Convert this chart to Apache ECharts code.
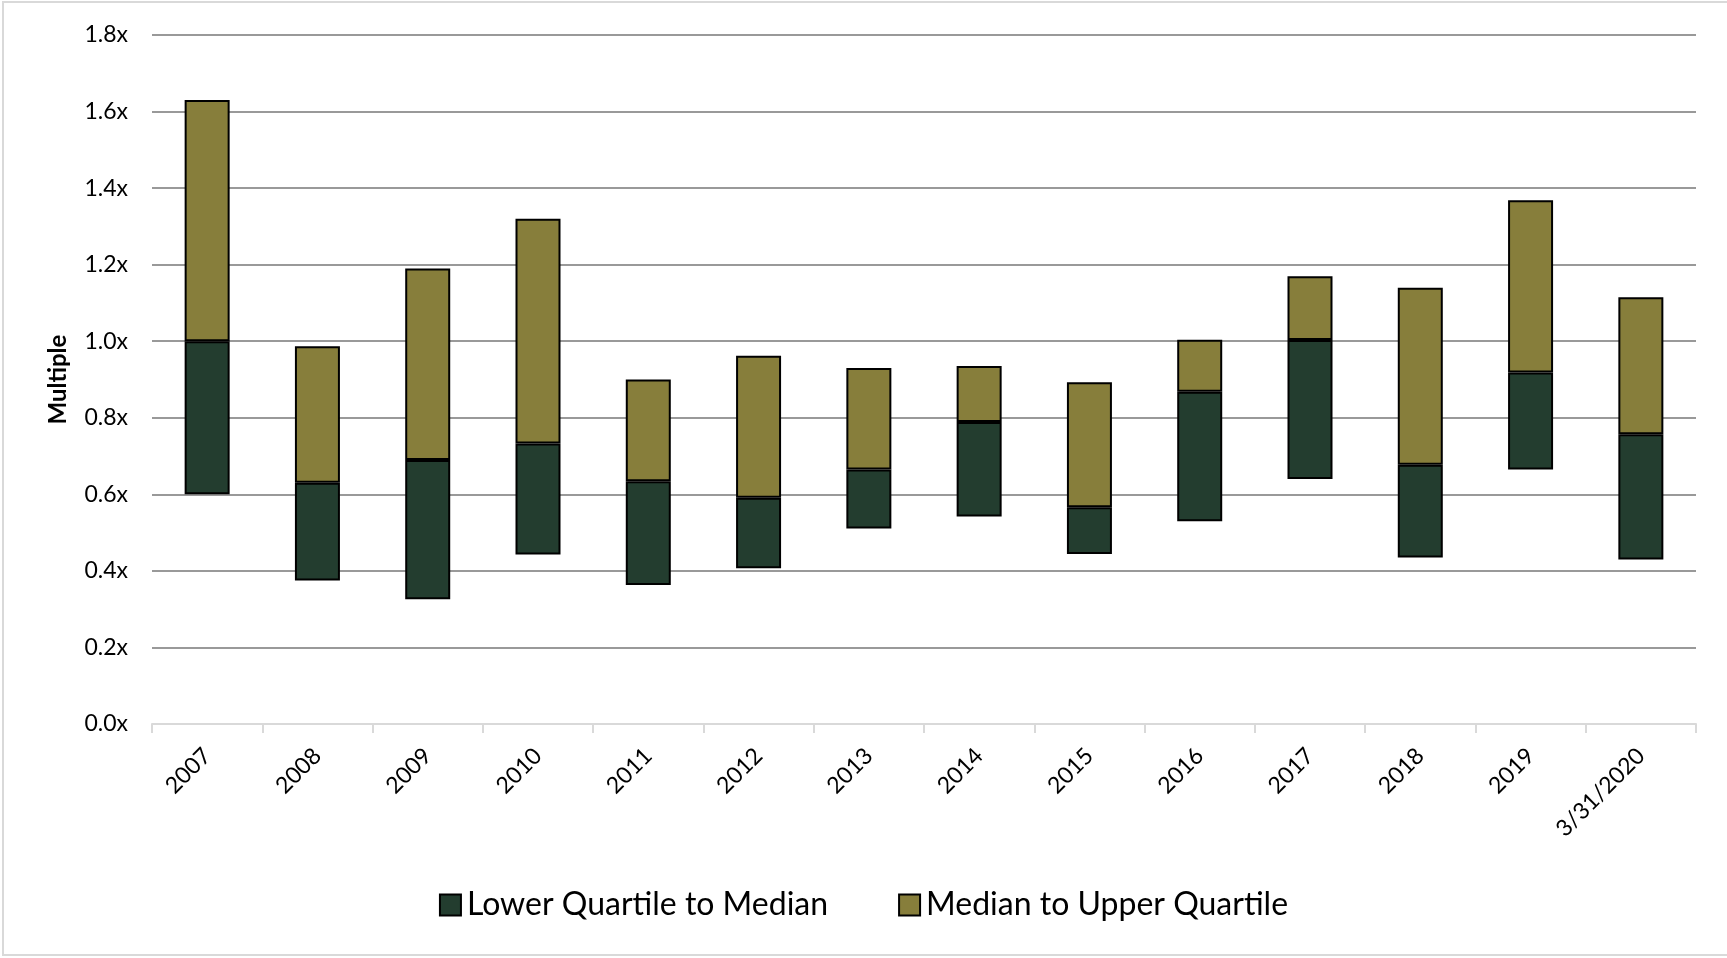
<!DOCTYPE html>
<html>
<head>
<meta charset="utf-8">
<title>Multiple by year</title>
<script src="https://cdn.jsdelivr.net/npm/echarts@6/dist/echarts.min.js"></script>
<style>
  html, body { margin: 0; padding: 0; background: #fff; }
  #main { width: 1727px; height: 958px; }
</style>
</head>
<body>
<div id="main"></div>
<script>
// categories + quartile values
var years = ['2007', '2008', '2009', '2010', '2011', '2012', '2013', '2014', '2015', '2016', '2017', '2018', '2019', '3/31/2020'];
var lowerQuartile = [0.60, 0.375, 0.326, 0.443, 0.363, 0.407, 0.511, 0.542, 0.444, 0.530, 0.640, 0.435, 0.665, 0.430];
var median = [1.00, 0.630, 0.690, 0.733, 0.634, 0.591, 0.665, 0.789, 0.566, 0.868, 1.003, 0.677, 0.918, 0.757];
var upperQuartile = [1.63, 0.987, 1.190, 1.320, 0.900, 0.962, 0.930, 0.935, 0.893, 1.004, 1.170, 1.140, 1.368, 1.115];
var yTicks = [0, 0.2, 0.4, 0.6, 0.8, 1.0, 1.2, 1.4, 1.6, 1.8];

var lowerToMedian = median.map(function (m, i) { return +(m - lowerQuartile[i]).toFixed(3); });
var medianToUpper = upperQuartile.map(function (u, i) { return +(u - median[i]).toFixed(3); });

var chart = echarts.init(document.getElementById('main'), null, { renderer: 'canvas' });

var font = 'Lato, "Open Sans", sans-serif';

var option = {
  backgroundColor: '#fff',
  animation: false,
  textStyle: { fontFamily: font },
  // thin frame round the whole chart
  graphic: [{
    type: 'rect',
    shape: { x: 3, y: 2, width: 1740, height: 953 },
    style: { fill: 'none', stroke: '#d9d9d9', lineWidth: 2 },
    silent: true
  }],
  grid: {
    left: 152,
    right: 31,
    top: 35,
    bottom: 234
  },
  legend: {
    data: ['Lower Quartile to Median', 'Median to Upper Quartile'],
    bottom: 32,
    left: 'center',
    itemWidth: 21,
    itemHeight: 21,
    itemGap: 70,
    icon: 'rect',
    textStyle: { fontSize: 32, color: '#000', fontFamily: font, padding: [0, 0, 0, 1] }
  },
  xAxis: {
    type: 'category',
    data: years,
    boundaryGap: true,
    axisLine: { lineStyle: { color: '#d9d9d9', width: 2 } },
    axisTick: { show: true, length: 9, lineStyle: { color: '#d9d9d9', width: 2 } },
    axisLabel: {
      interval: 0,
      rotate: 45,
      margin: 28,
      fontSize: 23,
      color: '#000',
      fontFamily: font
    }
  },
  yAxis: {
    type: 'value',
    min: 0,
    max: yTicks[yTicks.length - 1],
    interval: 0.2,
    name: 'Multiple',
    nameLocation: 'middle',
    nameGap: 82,
    nameTextStyle: { fontSize: 24, fontWeight: 'bold', color: '#000', fontFamily: font },
    axisLine: { show: false },
    axisTick: { show: false },
    axisLabel: {
      margin: 24,
      fontSize: 23,
      color: '#000',
      fontFamily: font,
      formatter: function (v) { return v.toFixed(1) + 'x'; }
    },
    splitLine: { lineStyle: { color: '#999999', width: 2 } }
  },
  series: [
    {
      name: 'base',
      type: 'bar',
      stack: 'q',
      barWidth: 45,
      itemStyle: { color: 'transparent', borderWidth: 0 },
      emphasis: { disabled: true },
      data: lowerQuartile
    },
    {
      name: 'Lower Quartile to Median',
      type: 'bar',
      stack: 'q',
      barWidth: 45,
      itemStyle: { color: '#233d2f', borderColor: '#000', borderWidth: 2 },
      data: lowerToMedian
    },
    {
      name: 'Median to Upper Quartile',
      type: 'bar',
      stack: 'q',
      barWidth: 45,
      itemStyle: { color: '#877e3b', borderColor: '#000', borderWidth: 2 },
      data: medianToUpper
    }
  ]
};

chart.setOption(option);
</script>
</body>
</html>
